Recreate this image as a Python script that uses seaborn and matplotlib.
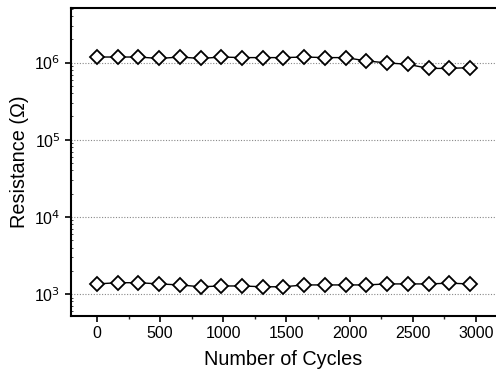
import matplotlib
matplotlib.use("Agg")
import matplotlib.pyplot as plt
import seaborn as sns
import pandas as pd
from matplotlib.ticker import FixedLocator, LogLocator, NullFormatter

cycles = [0, 164, 328, 492, 656, 820, 984, 1148, 1312, 1476, 1640, 1804, 1968,
          2132, 2296, 2460, 2624, 2788, 2952]
r_high = [1.18e6, 1.18e6, 1.18e6, 1.13e6, 1.18e6, 1.13e6, 1.18e6, 1.16e6, 1.16e6,
          1.16e6, 1.18e6, 1.16e6, 1.16e6, 1.05e6, 0.99e6, 0.95e6, 0.84e6, 0.84e6, 0.86e6]
r_low = [1.35e3, 1.40e3, 1.40e3, 1.35e3, 1.31e3, 1.24e3, 1.27e3, 1.27e3, 1.24e3,
         1.24e3, 1.31e3, 1.31e3, 1.31e3, 1.31e3, 1.35e3, 1.35e3, 1.35e3, 1.38e3, 1.35e3]
x_ticks = [0, 500, 1000, 1500, 2000, 2500, 3000]
y_ticks = [1e3, 1e4, 1e5, 1e6]
y_labels = ["10$^3$", "10$^4$", "10$^5$", "10$^6$"]

df = pd.DataFrame({
    "cycles": cycles + cycles,
    "R": r_high + r_low,
    "state": ["HRS"] * len(cycles) + ["LRS"] * len(cycles),
})

sns.set_theme(style="white")
plt.rcParams["font.family"] = ["Liberation Sans", "DejaVu Sans"]
plt.rcParams["text.color"] = "black"
plt.rcParams["axes.labelcolor"] = "black"

fig = plt.figure(figsize=(4.96, 3.72), dpi=100)
ax = fig.add_axes([0.143, 0.1505, 0.857, 0.8275])

for st in ["HRS", "LRS"]:
    sub = df[df["state"] == st]
    sns.lineplot(data=sub, x="cycles", y="R", ax=ax, color="black", linewidth=1.0,
                 marker="D", markersize=7.0, markerfacecolor="white",
                 markeredgecolor="black", markeredgewidth=1.3, legend=False)

ax.set_yscale("log")
ax.set_xlim(-206, 3158)
ax.set_ylim(518, 5.07e6)

ax.xaxis.set_major_locator(FixedLocator(x_ticks))
ax.xaxis.set_minor_locator(FixedLocator([250, 750, 1250, 1750, 2250, 2750]))
ax.set_xticklabels([str(t) for t in x_ticks])
ax.yaxis.set_major_locator(FixedLocator(y_ticks))
ax.set_yticklabels(y_labels)
ax.yaxis.set_minor_formatter(NullFormatter())
ax.yaxis.set_minor_locator(LogLocator(base=10, subs=[2, 3, 4, 5, 6, 7, 8, 9]))

ax.tick_params(axis="both", which="major", direction="out", length=4, width=1.2,
               labelsize=11.5, colors="black", bottom=True, left=True)
ax.tick_params(axis="x", which="minor", direction="out", length=2.5, width=1.0, bottom=True)
ax.tick_params(axis="y", which="minor", direction="in", length=1.5, width=0.6, left=True)

for y in y_ticks:
    ax.axhline(y, color="#888888", linestyle=(0, (1, 1.5)), linewidth=0.8, zorder=0)

for s in ["left", "bottom", "top"]:
    ax.spines[s].set_visible(True)
    ax.spines[s].set_color("black")
    ax.spines[s].set_linewidth(1.5)
ax.spines["right"].set_visible(False)

ax.set_xlabel("Number of Cycles", fontsize=14.3, labelpad=6, color="black")
ax.set_ylabel("Resistance (\u03a9)", fontsize=14.3, labelpad=4, color="black")

fig.savefig("out.png", dpi=100)
